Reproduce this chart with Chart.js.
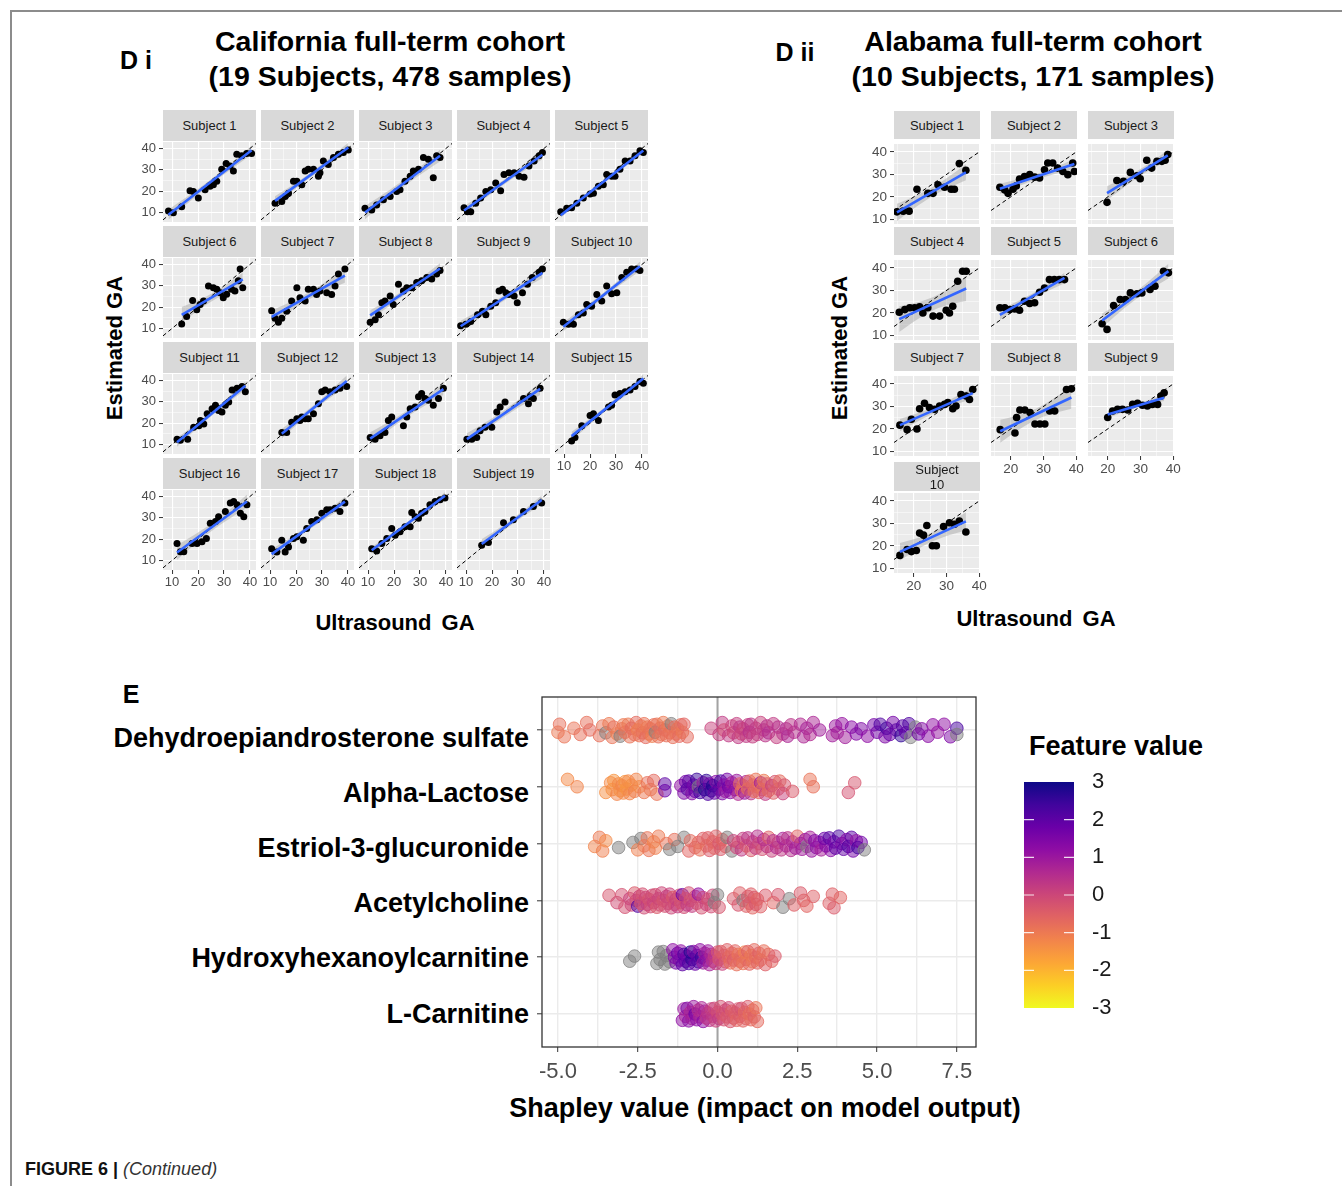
<!DOCTYPE html>
<html>
<head>
<meta charset="utf-8">
<script src="https://cdn.jsdelivr.net/npm/chart.js@4.4.1/dist/chart.umd.min.js"></script>
<style>
body { margin: 0; background: #fff; width: 1342px; height: 1186px; position: relative; overflow: hidden;
       font-family: "Liberation Sans", Arial, sans-serif; }
canvas { position: absolute; }
.strip { position: absolute; background: #D9D9D9; color: #1A1A1A; font-size: 13px; display: flex;
         align-items: center; justify-content: center; text-align: center; line-height: 15px; }
.txt { position: absolute; transform: translate(-50%, -50%); white-space: nowrap; color: #000; font-weight: bold; }
.feat { position: absolute; transform: translate(-100%, -50%); white-space: nowrap; color: #000; font-weight: bold; font-size: 27px; }
.rot { position: absolute; transform: translate(-50%, -50%) rotate(-90deg); white-space: nowrap; font-weight: bold; font-size: 22px; }
.line { position: absolute; background: #8C8C8C; }
</style>
</head>
<body>
<div class="line" style="left:10px;top:10px;width:1332px;height:1.5px"></div>
<div class="line" style="left:10px;top:10px;width:1.5px;height:1176px"></div>

<div class="txt" style="left:136px;top:60px;font-size:25px">D i</div>
<div class="txt" style="left:390px;top:41px;font-size:28.5px">California full-term cohort</div>
<div class="txt" style="left:390px;top:76px;font-size:28.5px">(19 Subjects, 478 samples)</div>
<div class="txt" style="left:795px;top:52px;font-size:25px">D ii</div>
<div class="txt" style="left:1033px;top:41px;font-size:28.5px">Alabama full-term cohort</div>
<div class="txt" style="left:1033px;top:76px;font-size:28.5px">(10 Subjects, 171 samples)</div>

<div class="rot" style="left:115px;top:348px">Estimated GA</div>
<div class="rot" style="left:840px;top:348px">Estimated GA</div>
<div class="txt" style="left:395px;top:623px;font-size:22px;word-spacing:4px">Ultrasound GA</div>
<div class="txt" style="left:1036px;top:619px;font-size:22px;word-spacing:4px">Ultrasound GA</div>

<div class="txt" style="left:131px;top:694px;font-size:25px">E</div>
<div class="txt" style="left:1116px;top:746px;font-size:27px">Feature value</div>
<div class="txt" style="left:765px;top:1108px;font-size:27px">Shapley value (impact on model output)</div>
<div id="featLabels"></div>

<div style="position:absolute;left:25px;top:1159px;font-size:18px;color:#111">
  <b>FIGURE 6 |</b> <i style="color:#333">(Continued)</i>
</div>

<script>
// ---- California cohort, estimated vs ultrasound GA, one array per subject ----
const ca01 = [[8.6,10.6],[10.5,9.8],[13.7,12.7],[16.9,20.2],[18.2,19.8],[20.1,16.7],[22.7,20.6],[24.6,22.2],[25.9,23.0],[27.2,24.6],[29.1,30.2],[30.8,32.9],[32.3,31.7],[33.6,29.4],[34.9,37.3],[36.8,36.5],[38.7,37.6],[40.6,37.6]];
const ca02 = [[11.9,14.3],[14.5,15.1],[15.8,17.5],[17.1,19.0],[19.0,24.6],[20.3,24.6],[22.2,23.0],[23.5,29.4],[24.7,30.2],[26.7,30.2],[28.6,27.0],[29.2,28.6],[30.5,34.1],[32.4,32.5],[34.4,35.7],[36.3,37.3],[38.2,38.1],[40.1,39.2]];
const ca03 = [[8.8,11.9],[11.4,11.1],[13.3,13.5],[15.9,15.9],[18.5,17.5],[21.0,19.8],[22.3,20.6],[24.2,24.6],[26.2,27.0],[27.4,29.4],[29.4,30.2],[31.3,35.7],[33.2,34.9],[35.1,26.2],[36.4,36.5],[37.7,35.7]];
const ca04 = [[9.2,12.2],[10.5,10.3],[11.8,10.3],[13.7,14.3],[15.6,16.7],[17.6,19.8],[19.5,20.6],[21.4,23.8],[23.3,20.2],[24.6,27.8],[26.5,28.6],[28.5,28.6],[30.4,27.0],[32.3,26.5],[34.2,31.7],[36.2,34.1],[38.1,36.5],[39.4,38.1]];
const ca05 = [[8.7,10.3],[11.0,11.9],[12.9,12.2],[14.9,14.3],[17.4,16.7],[20.0,18.6],[21.3,19.0],[23.2,22.2],[25.1,23.0],[26.4,27.8],[28.3,27.0],[29.6,27.0],[31.5,30.2],[33.5,34.1],[35.4,34.1],[37.3,36.5],[39.2,38.9],[40.5,38.1]];
const ca06 = [[13.7,12.1],[15.6,15.6],[17.9,23.1],[19.5,18.8],[20.8,21.2],[22.1,22.8],[24.0,29.9],[25.9,29.1],[27.2,28.3],[28.5,26.7],[29.7,24.4],[31.0,26.0],[32.9,28.3],[34.2,27.5],[35.5,32.3],[36.2,37.9],[37.2,29.1]];
const ca07 = [[10.6,18.3],[11.9,14.8],[13.2,12.9],[14.5,14.8],[16.4,18.0],[18.3,22.8],[20.3,29.1],[21.5,24.4],[23.5,22.8],[24.7,28.3],[26.7,28.3],[27.9,25.9],[29.2,27.5],[31.8,26.7],[33.7,25.9],[35.0,29.9],[36.3,35.5],[38.8,37.9]];
const ca08 = [[10.8,12.9],[12.7,14.0],[14.0,16.4],[15.3,22.0],[16.5,22.8],[18.5,25.2],[19.7,21.2],[21.7,30.7],[23.6,27.5],[24.9,29.1],[26.8,29.1],[28.7,31.5],[30.6,32.3],[32.6,33.9],[34.5,33.1],[36.4,35.5],[37.7,37.1]];
const ca09 = [[7.9,11.3],[9.9,11.9],[11.8,13.2],[14.4,16.4],[16.3,18.0],[17.6,16.4],[19.5,20.4],[21.4,22.0],[22.7,27.5],[24.0,28.3],[25.3,26.7],[26.5,25.9],[28.5,25.2],[29.7,22.0],[31.7,26.7],[33.6,30.7],[35.5,33.9],[38.1,36.3],[39.4,37.9]];
const ca10 = [[9.7,12.9],[11.7,11.9],[13.6,11.9],[15.5,16.4],[17.4,17.2],[18.7,21.2],[20.6,20.4],[22.6,25.9],[24.5,22.8],[26.4,29.9],[28.3,26.3],[30.3,26.7],[32.2,33.9],[34.1,36.3],[36.0,37.9],[37.9,37.9],[39.2,37.1]];
const ca11 = [[11.9,12.4],[13.2,11.9],[16.0,12.4],[18.3,18.0],[20.3,18.8],[20.9,21.2],[22.2,19.6],[23.5,24.4],[25.4,26.7],[26.7,28.3],[27.9,25.9],[29.2,25.2],[30.5,28.3],[31.8,29.9],[33.1,35.5],[35.0,36.3],[36.9,37.1],[38.2,34.7]];
const ca12 = [[14.5,15.6],[16.4,15.6],[18.3,20.4],[20.3,22.0],[21.5,21.2],[22.2,22.8],[23.5,22.0],[24.7,22.0],[26.7,24.4],[28.6,29.1],[29.9,34.7],[31.2,35.5],[33.1,34.7],[35.0,35.5],[36.9,36.3],[39.5,37.1]];
const ca13 = [[10.8,13.2],[12.7,12.4],[14.6,14.0],[16.5,15.6],[17.8,21.2],[19.1,22.8],[23.6,18.8],[24.9,22.8],[26.2,26.7],[28.1,27.5],[29.4,32.3],[30.6,33.9],[31.9,31.5],[33.2,30.7],[35.1,28.3],[37.1,31.5],[39.0,36.3]];
const ca14 = [[10.3,12.4],[12.2,12.4],[14.1,13.2],[15.4,16.4],[17.3,18.0],[19.9,18.0],[21.8,25.2],[23.1,27.5],[25.0,29.9],[32.1,31.5],[34.0,29.1],[34.6,32.3],[35.9,31.5],[38.5,36.3]];
const ca15 = [[12.9,11.6],[14.2,13.2],[16.8,18.8],[20.0,23.6],[21.3,24.4],[23.2,21.2],[27.1,27.5],[28.3,28.3],[29.6,33.1],[31.5,33.9],[33.5,34.7],[35.4,35.5],[37.3,37.1],[39.2,39.5],[40.5,38.7]];
const ca16 = [[11.9,17.9],[13.2,14.0],[14.5,14.0],[17.7,17.9],[19.6,17.9],[21.5,18.7],[23.2,20.3],[24.7,27.4],[26.7,28.2],[27.9,30.5],[30.5,32.9],[32.4,36.9],[33.7,37.6],[35.0,36.1],[36.3,32.1],[37.6,30.5],[38.8,36.1]];
const ca17 = [[10.6,15.5],[12.6,13.9],[14.5,19.5],[15.8,13.9],[17.1,16.3],[19.0,20.3],[20.3,21.1],[22.8,19.5],[24.1,25.0],[26.0,28.2],[28.0,29.0],[29.9,32.1],[31.8,33.7],[33.1,33.7],[35.0,34.5],[36.9,32.9],[38.8,36.9]];
const ca18 = [[11.4,15.5],[13.3,14.4],[15.3,17.9],[17.2,20.3],[19.1,25.0],[20.4,21.8],[22.3,23.4],[24.2,25.8],[26.2,25.8],[26.8,32.4],[28.1,30.5],[29.4,29.7],[30.6,32.1],[31.9,32.9],[33.8,36.1],[35.8,37.6],[37.7,38.4],[39.6,39.2]];
const ca19 = [[16.0,17.1],[18.6,18.4],[24.4,27.7],[28.2,29.0],[32.1,32.9],[35.9,35.3],[39.1,36.9]];

// ---- Alabama cohort ----
const al01 = [[14.9,13.4],[16.8,13.7],[18.6,13.7],[21.0,23.4],[24.3,21.6],[25.9,21.6],[27.4,25.4],[29.4,24.3],[31.4,23.4],[32.4,23.4],[33.9,34.8],[35.9,31.8]];
const al02 = [[16.7,24.3],[18.2,23.1],[19.2,21.6],[20.7,23.4],[21.7,24.9],[22.7,27.9],[24.2,29.1],[25.8,29.9],[27.3,28.8],[28.8,28.4],[30.3,32.1],[31.3,35.1],[32.8,35.1],[34.3,32.8],[35.9,31.3],[37.4,29.9],[38.9,35.1],[39.4,31.3]];
const al03 = [[19.8,17.6],[22.8,27.3],[24.8,26.9],[26.9,30.9],[28.9,29.4],[29.9,28.1],[31.9,36.3],[33.4,32.8],[35.0,35.8],[36.5,35.8],[37.5,36.3],[38.3,38.8]];
const al04 = [[15.6,20.3],[17.3,21.5],[18.8,22.3],[20.3,22.3],[21.8,22.7],[22.8,20.0],[24.3,22.3],[25.9,18.6],[27.9,18.6],[29.9,21.2],[30.9,20.0],[31.9,23.0],[33.4,34.1],[34.9,38.5],[36.0,38.5]];
const al05 = [[16.7,22.3],[18.2,22.3],[19.7,21.5],[21.2,21.8],[22.7,21.2],[24.2,25.2],[25.8,24.2],[27.3,24.5],[28.8,29.2],[30.3,31.1],[31.8,34.8],[33.3,34.8],[34.8,34.8],[36.4,34.8]];
const al06 = [[18.3,15.2],[19.8,12.7],[21.8,23.3],[23.8,26.0],[25.4,26.0],[26.9,28.9],[28.9,28.5],[30.4,28.9],[32.9,30.4],[34.4,31.9],[37.0,38.5],[38.5,37.8]];
const al07 = [[15.8,21.7],[18.0,19.7],[19.3,24.3],[21.0,20.0],[21.8,29.0],[23.3,31.4],[24.8,29.5],[26.4,28.7],[27.9,30.2],[29.4,30.9],[30.4,31.7],[31.9,29.0],[32.9,30.2],[34.4,35.3],[36.0,34.6],[37.0,33.1],[38.0,37.5]];
const al08 = [[16.8,19.7],[21.3,18.2],[21.8,25.1],[22.8,28.4],[24.3,28.4],[25.9,27.3],[27.4,22.2],[28.9,22.2],[30.4,22.2],[31.9,28.0],[33.4,28.0],[37.0,37.5],[38.5,37.8]];
const al09 = [[20.0,25.1],[21.5,28.0],[23.0,28.7],[24.5,28.7],[26.1,28.4],[27.6,30.9],[29.1,31.4],[30.6,30.5],[32.1,30.2],[33.6,30.9],[35.2,30.9],[36.2,34.6],[37.2,36.1]];
const al10 = [[15.8,15.8],[18.0,18.4],[19.3,17.5],[20.8,18.0],[21.8,25.7],[23.0,24.8],[24.0,29.1],[25.7,20.1],[26.9,20.1],[29.1,28.6],[30.9,30.3],[32.4,29.6],[33.9,31.0],[35.9,26.2]];

const calData = [ca01, ca02, ca03, ca04, ca05, ca06, ca07, ca08, ca09, ca10, ca11, ca12, ca13, ca14, ca15, ca16, ca17, ca18, ca19];
const alData = [al01, al02, al03, al04, al05, al06, al07, al08, al09, al10];
const gaGrid = [5, 10, 15, 20, 25, 30, 35, 40, 45];

// ---- SHAP values: [shapley value, scaled feature value (null = missing)] ----
const features = ['Dehydroepiandrosterone sulfate', 'Alpha-Lactose', 'Estriol-3-glucuronide',
                  'Acetylcholine', 'Hydroxyhexanoylcarnitine', 'L-Carnitine'];
const shapDhea = [[-5.0,-1.0],[-4.95,-0.8],[-4.8,-0.9],[-4.5,-0.9],[-4.3,-0.8],[-4.1,-0.8],[-4.0,-0.7],[-3.7,-0.8],[-3.6,-0.9],[-3.5,null],[-3.4,-1.0],[-3.3,-0.9],[-3.25,-0.8],[-3.15,-1.1],[-3.0,-0.9],[-3.05,null],[-2.95,-1.0],[-2.9,-0.8],[-2.8,-1.0],[-2.75,-0.9],[-2.7,-0.7],[-2.6,-0.8],[-2.55,-0.7],[-2.5,-1.1],[-2.45,-0.9],[-2.4,-1.0],[-2.35,-0.8],[-2.3,-0.9],[-2.25,-0.7],[-2.2,-1.0],[-2.15,-0.8],[-2.1,-0.9],[-2.05,-1.1],[-2.0,-0.8],[-1.95,null],[-1.9,-0.9],[-1.85,-0.8],[-1.8,-0.7],[-1.75,-0.9],[-1.7,-1.0],[-1.65,-0.7],[-1.6,-0.8],[-1.55,-1.0],[-1.5,-0.8],[-1.45,null],[-1.4,-0.8],[-1.35,-0.7],[-1.3,-0.9],[-1.25,-0.9],[-1.2,-0.7],[-1.15,-0.8],[-1.1,-1.0],[-1.05,-0.6],[-0.95,-0.7],
  [-0.2,0.1],[0.05,0.2],[0.15,0.3],[0.2,-0.1],[0.35,0.3],[0.45,0.1],[0.5,0.0],[0.6,0.2],[0.65,0.3],[0.7,0.4],[0.75,0.0],[0.8,0.1],[0.9,0.3],[0.95,0.2],[1.0,0.5],[1.05,0.4],[1.1,0.2],[1.2,0.3],[1.25,0.2],[1.35,0.1],[1.45,0.3],[1.5,0.4],[1.55,0.5],[1.6,0.6],[1.75,0.3],[1.85,0.2],[1.9,0.5],[2.05,0.4],[2.15,0.6],[2.2,0.7],[2.3,0.4],[2.4,0.5],[2.6,0.6],[2.7,0.7],[2.8,0.8],[2.9,0.6],[3.0,0.7],[3.2,0.9],
  [3.6,0.9],[3.7,1.0],[3.75,0.8],[3.9,1.1],[4.0,0.9],[4.2,1.3],[4.35,1.4],[4.5,1.5],[4.7,1.2],[4.9,1.6],[5.0,1.7],[5.1,2.2],[5.25,1.5],[5.3,2.4],[5.4,1.8],[5.5,1.6],[5.6,2.0],[5.75,2.6],[5.8,2.1],[5.9,1.9],[6.0,2.2],[6.05,null],[6.2,null],[6.3,1.7],[6.4,1.4],[6.6,1.3],[6.75,1.2],[6.9,1.1],[7.1,1.2],[7.3,1.5],[7.5,2.3],[7.5,null]];
const shapLactose = [[-4.7,-1.3],[-4.4,-1.2],[-3.5,-1.4],[-3.35,-1.3],[-3.3,-1.4],[-3.25,-1.5],[-3.15,-1.2],[-3.1,-1.3],[-3.05,-1.4],[-3.0,-1.2],[-2.95,-1.3],[-2.9,-1.5],[-2.85,-1.5],[-2.8,-1.3],[-2.75,-1.2],[-2.7,-1.4],[-2.6,-1.1],[-2.55,-1.2],[-2.45,-1.3],[-2.3,-1.0],[-2.2,-0.8],[-2.1,-1.0],[-2.0,-0.7],[-1.9,-0.9],[-1.65,2.0],[-1.65,1.8],[-1.15,1.2],[-1.05,1.5],[-1.0,1.6],[-0.95,2.2],[-0.9,2.0],[-0.8,1.4],[-0.75,1.6],[-0.7,1.8],[-0.65,2.5],[-0.6,null],[-0.55,2.4],[-0.45,1.1],[-0.4,2.9],[-0.35,2.6],[-0.3,2.2],[-0.25,1.7],[-0.2,2.6],[-0.15,2.8],[-0.1,1.9],[-0.05,1.3],[0.05,2.1],[0.1,2.4],[0.15,1.5],[0.2,1.2],[0.25,1.0],[0.3,1.6],[0.35,1.8],[0.4,1.3],[0.45,0.8],[0.55,1.4],[0.6,1.0],[0.65,0.6],[0.7,-0.6],[0.75,-0.7],[0.8,-0.8],[0.85,1.1],[0.9,0.7],[0.95,-0.9],[1.0,-0.7],[1.05,0.4],[1.1,-0.5],[1.15,-0.8],[1.2,-0.9],[1.25,-0.6],[1.3,-0.6],[1.35,0.9],[1.4,-0.8],[1.45,-1.0],[1.5,0.3],[1.55,-0.5],[1.6,-0.7],[1.7,0.2],[1.75,-0.5],[1.8,-0.3],[1.9,-0.4],[1.95,-0.7],[2.05,0.1],[2.1,-0.3],[2.35,-0.4],[2.9,-0.9],[3.0,-0.8],[4.1,-0.2],[4.3,-0.3]];
const shapEstriol = [[-3.85,-1.2],[-3.7,-1.0],[-3.6,-1.1],[-3.5,-1.3],[-3.1,null],[-2.65,null],[-2.5,-1.1],[-2.4,null],[-2.3,-1.0],[-2.2,-0.9],[-2.15,-0.9],[-2.0,-1.2],[-1.95,-1.1],[-1.85,-1.0],[-1.6,-0.9],[-1.5,null],[-1.35,-0.8],[-1.25,null],[-1.05,null],[-0.9,-0.6],[-0.85,-0.7],[-0.7,-0.6],[-0.6,-0.7],[-0.55,-0.8],[-0.45,-0.5],[-0.35,-0.7],[-0.3,-0.5],[-0.25,-0.4],[-0.15,-0.6],[-0.1,-0.6],[-0.05,-0.5],[0.05,-0.3],[0.1,-0.4],[0.15,-0.6],[0.25,-0.5],[0.3,null],[0.45,null],[0.5,0.1],[0.6,0.0],[0.65,-0.2],[0.75,0.3],[0.8,0.2],[0.9,-0.3],[0.95,0.4],[1.05,-0.4],[1.1,0.2],[1.2,0.3],[1.25,0.5],[1.3,0.0],[1.4,-0.2],[1.45,0.6],[1.55,0.4],[1.6,-0.5],[1.7,0.1],[1.75,0.5],[1.85,0.6],[1.9,0.2],[2.0,0.3],[2.05,0.8],[2.15,0.7],[2.2,0.4],[2.3,0.5],[2.35,0.7],[2.45,0.9],[2.5,-0.6],[2.6,0.6],[2.65,0.9],[2.75,1.1],[2.8,null],[2.9,0.8],[2.95,1.0],[3.05,1.4],[3.1,1.2],[3.2,1.1],[3.25,0.8],[3.35,1.8],[3.4,1.5],[3.5,2.1],[3.55,1.3],[3.65,1.6],[3.7,2.0],[3.8,2.3],[3.9,1.5],[3.95,1.9],[4.05,1.3],[4.1,2.2],[4.2,2.0],[4.25,1.6],[4.35,1.1],[4.4,2.4],[4.5,1.7],[4.6,null]];
const shapAcetyl = [[-3.4,-0.3],[-3.15,-0.1],[-3.0,-0.2],[-2.9,-0.2],[-2.75,0.1],[-2.7,0.0],[-2.6,-0.4],[-2.55,-0.1],[-2.5,2.2],[-2.45,0.1],[-2.4,-0.3],[-2.35,-0.2],[-2.3,-0.1],[-2.25,0.0],[-2.2,0.2],[-2.15,-0.3],[-2.1,-0.1],[-2.05,0.0],[-2.0,0.1],[-1.95,-0.2],[-1.9,-0.4],[-1.85,0.1],[-1.8,-0.1],[-1.75,0.0],[-1.7,-0.3],[-1.65,-0.2],[-1.6,0.2],[-1.55,-0.1],[-1.5,0.1],[-1.45,0.0],[-1.4,-0.4],[-1.35,-0.1],[-1.3,0.1],[-1.25,0.2],[-1.2,-0.2],[-1.15,-0.3],[-1.1,1.8],[-1.05,-0.1],[-1.0,0.0],[-0.95,0.3],[-0.9,-0.2],[-0.85,-0.3],[-0.8,0.2],[-0.7,0.0],[-0.65,-0.1],[-0.6,1.2],[-0.5,-0.2],[-0.45,0.1],[-0.35,0.1],[-0.3,-0.2],[-0.2,-0.1],[-0.15,0.0],[-0.1,null],[0.0,null],[0.05,-0.3],[0.5,-0.4],[0.65,-0.3],[0.7,-0.5],[0.8,null],[0.9,-0.5],[0.95,-0.3],[1.0,-0.4],[1.05,-0.5],[1.1,-0.6],[1.15,-0.4],[1.2,-0.3],[1.25,-0.6],[1.35,-0.5],[1.5,-0.4],[1.75,-0.6],[1.9,-0.3],[2.05,null],[2.25,null],[2.4,-0.5],[2.6,-0.4],[2.7,-0.5],[2.8,-0.6],[3.0,-0.5],[3.5,-0.5],[3.6,-0.5],[3.65,-0.4],[3.85,-0.6]];
const shapHydroxy = [[-2.75,null],[-2.6,null],[-1.9,null],[-1.85,null],[-1.8,null],[-1.7,null],[-1.65,null],[-1.6,null],[-1.5,null],[-1.4,1.2],[-1.35,1.4],[-1.3,1.6],[-1.25,1.8],[-1.2,1.5],[-1.15,1.2],[-1.1,2.0],[-1.05,2.2],[-1.0,1.8],[-0.95,1.6],[-0.9,2.3],[-0.85,2.8],[-0.8,2.6],[-0.75,1.4],[-0.7,1.8],[-0.65,2.0],[-0.6,2.2],[-0.55,1.2],[-0.5,2.5],[-0.45,1.0],[-0.4,0.8],[-0.35,1.4],[-0.3,1.0],[-0.25,0.8],[-0.2,0.6],[-0.15,0.5],[-0.1,0.3],[-0.05,0.2],[0.0,-0.2],[0.05,-0.3],[0.1,-0.5],[0.15,0.1],[0.2,-0.4],[0.25,-0.3],[0.3,-0.5],[0.35,-0.6],[0.4,-0.8],[0.45,-0.7],[0.5,-0.4],[0.55,-0.6],[0.6,-0.8],[0.65,-0.9],[0.7,-0.6],[0.75,-0.7],[0.8,-0.9],[0.85,-1.1],[0.9,-0.8],[0.95,-0.5],[1.0,-0.6],[1.05,-1.0],[1.1,-0.9],[1.15,-0.7],[1.2,-0.7],[1.25,-0.6],[1.3,-0.5],[1.35,-0.8],[1.45,-0.8],[1.5,-0.5],[1.6,-0.7],[1.7,-0.6],[1.8,-0.4]];
const shapCarnitine = [[-1.1,1.2],[-1.05,1.0],[-1.0,0.8],[-0.95,1.5],[-0.9,1.3],[-0.85,0.6],[-0.8,0.9],[-0.75,1.0],[-0.7,1.8],[-0.65,1.2],[-0.6,0.4],[-0.55,0.6],[-0.5,0.7],[-0.45,1.3],[-0.4,0.8],[-0.35,0.3],[-0.3,0.4],[-0.25,0.5],[-0.2,0.2],[-0.15,0.3],[-0.1,0.0],[-0.05,0.1],[0.0,-0.1],[0.05,0.3],[0.1,-0.2],[0.15,-0.3],[0.2,-0.2],[0.25,-0.1],[0.3,-0.4],[0.35,0.0],[0.4,-0.3],[0.45,-0.5],[0.5,-0.3],[0.55,-0.5],[0.6,-0.6],[0.65,-0.3],[0.7,-0.4],[0.75,-0.2],[0.8,-0.6],[0.85,-0.7],[0.9,-0.5],[0.95,-0.4],[1.0,-0.8],[1.05,-0.7],[1.1,-0.6],[1.15,-0.5],[1.2,-0.9],[1.25,-0.7]];
const shapRows = [shapDhea, shapLactose, shapEstriol, shapAcetyl, shapHydroxy, shapCarnitine];
const shapGrid = [-5, -3.75, -2.5, -1.25, 0, 1.25, 2.5, 3.75, 5, 6.25, 7.5];
const colorbarTicks = [-3, -2, -1, 0, 1, 2, 3];

// vertical spread of the dots around each row (row units)
const jitter = [0.04, -0.1, 0.12, -0.03, 0.08, -0.13, 0.0, 0.1, -0.07, 0.05, -0.11, 0.13, -0.05, 0.07, -0.02, 0.11, -0.09];
const plasma = ['#0d0887', '#41049d', '#6a00a8', '#8f0da4', '#b12a90', '#cc4778', '#e16462', '#f2844b', '#fca636', '#fcce25', '#f0f921'];
// where each feature name sits (the labels are set a little apart from the rows in the figure)
const featLabelY = [738, 793, 848, 903, 958, 1014];

Chart.defaults.font.family = '"Liberation Sans", Arial, sans-serif';
Chart.defaults.animation = false;

function hexRgb(h) {
    return [parseInt(h.slice(1, 3), 16), parseInt(h.slice(3, 5), 16), parseInt(h.slice(5, 7), 16)];
}
function featureColor(v, alpha) {
    if (v === null || v === undefined) return `rgba(128,128,128,${alpha})`;
    const t = (3 - Math.max(-3, Math.min(3, v))) / 6;
    const p = t * (plasma.length - 1);
    const i = Math.min(Math.floor(p), plasma.length - 2);
    const f = p - i;
    const c0 = hexRgb(plasma[i]), c1 = hexRgb(plasma[i + 1]);
    const c = c0.map((c, k) => Math.round(c + (c1[k] - c) * f));
    return `rgba(${c[0]},${c[1]},${c[2]},${alpha})`;
}

// least squares fit + 95% band, like geom_smooth(method = "lm")
function fitLine(pts) {
    const n = pts.length;
    const mx = pts.reduce((s, p) => s + p[0], 0) / n;
    const my = pts.reduce((s, p) => s + p[1], 0) / n;
    let sxx = 0, sxy = 0;
    pts.forEach(p => { sxx += (p[0] - mx) ** 2; sxy += (p[0] - mx) * (p[1] - my); });
    const b = sxy / sxx, a = my - b * mx;
    let sse = 0;
    pts.forEach(p => { sse += (p[1] - a - b * p[0]) ** 2; });
    const s = Math.sqrt(sse / (n - 2));
    const xs = pts.map(p => p[0]);
    const xmin = Math.min(...xs), xmax = Math.max(...xs);
    const lower = [], upper = [];
    for (let i = 0; i <= 12; i++) {
        const x = xmin + (xmax - xmin) * i / 12;
        const se = 2.12 * s * Math.sqrt(1 / n + (x - mx) ** 2 / sxx);
        lower.push({ x: x, y: a + b * x - se });
        upper.push({ x: x, y: a + b * x + se });
    }
    return { line: [{ x: xmin, y: a + b * xmin }, { x: xmax, y: a + b * xmax }], lower, upper };
}

const panelBg = {
    id: 'panelBg',
    beforeDraw(chart) {
        const a = chart.chartArea, c = chart.ctx;
        c.save();
        c.fillStyle = '#EBEBEB';
        c.fillRect(a.left, a.top, a.right - a.left, a.bottom - a.top);
        c.restore();
    }
};

function gaAxis(range, show, isX, size, fontSize) {
    const major = c => c.tick && c.tick.value % 10 === 0;
    return {
        type: 'linear', min: range[0], max: range[1],
        afterBuildTicks: s => { s.ticks = gaGrid.filter(v => v > s.min && v < s.max).map(v => ({ value: v })); },
        afterFit: s => {
            if (isX) s.height = size; else s.width = size;
            s.paddingLeft = 0; s.paddingRight = 0; s.paddingTop = 0; s.paddingBottom = 0;
        },
        grid: {
            color: '#FFFFFF', lineWidth: c => major(c) ? 1.1 : 0.5,
            drawTicks: show, tickLength: 4, tickWidth: 1,
            tickColor: c => major(c) ? '#333333' : 'rgba(0,0,0,0)'
        },
        border: { display: false },
        ticks: {
            display: show, autoSkip: false, maxRotation: 0, padding: isX ? 1 : 3,
            color: '#4D4D4D', font: { size: fontSize },
            callback: v => v % 10 === 0 ? v : ''
        }
    };
}

const M = 12;
function drawPanel(pts, name, g) {
    const yW = g.showY ? 30 : 0, xH = g.showX ? 20 : 0;
    const strip = document.createElement('div');
    strip.className = 'strip';
    strip.style.left = g.left + 'px';
    strip.style.top = g.stripTop + 'px';
    strip.style.width = g.w + 'px';
    strip.style.height = g.stripH + 'px';
    strip.innerHTML = name;
    document.body.appendChild(strip);

    const cv = document.createElement('canvas');
    cv.width = g.w + 2 * M + yW;
    cv.height = g.h + 2 * M + xH;
    cv.style.left = (g.left - M - yW) + 'px';
    cv.style.top = (g.top - M) + 'px';
    document.body.appendChild(cv);

    const fit = fitLine(pts);
    new Chart(cv, {
        type: 'scatter',
        data: {
            datasets: [
                { type: 'line', data: fit.lower, borderColor: 'rgba(0,0,0,0)', borderWidth: 0, pointRadius: 0, fill: false, order: 5 },
                { type: 'line', data: fit.upper, borderColor: 'rgba(0,0,0,0)', borderWidth: 0, pointRadius: 0,
                  fill: '-1', backgroundColor: 'rgba(153,153,153,0.4)', order: 4 },
                { type: 'line', data: [{ x: g.xr[0], y: g.xr[0] }, { x: g.xr[1], y: g.xr[1] }],
                  borderColor: '#000', borderWidth: 1, borderDash: [4, 3], pointRadius: 0, order: 3 },
                { data: pts.map(p => ({ x: p[0], y: p[1] })), backgroundColor: '#000', borderWidth: 0,
                  pointRadius: g.r, order: 2 },
                { type: 'line', data: fit.line, borderColor: '#3366FF', borderWidth: 2.6, pointRadius: 0, order: 1 }
            ]
        },
        options: {
            responsive: false, events: [],
            layout: { autoPadding: false, padding: { left: M, right: M, top: M, bottom: M } },
            plugins: { legend: { display: false }, tooltip: { enabled: false } },
            scales: {
                x: gaAxis(g.xr, g.showX, true, xH, g.fs),
                y: gaAxis(g.yr, g.showY, false, yW, g.fs)
            }
        },
        plugins: [panelBg]
    });
}

// California facets: 5 columns
const calLefts = [163, 261, 359, 457, 555];
const calTops = [142, 258, 374, 490];
calData.forEach((pts, i) => {
    const col = i % 5, row = Math.floor(i / 5);
    drawPanel(pts, 'Subject ' + (i + 1), {
        left: calLefts[col], top: calTops[row], w: 93, h: 80,
        stripTop: calTops[row] - 32, stripH: 31,
        xr: [6.5, 42.3], yr: [5.5, 43], r: 3.5, fs: 13,
        showY: col === 0, showX: row === 3 || (row === 2 && col === 4)
    });
});

// Alabama facets: 3 columns
const alLefts = [894, 991, 1088];
const alTops = [144, 260, 376, 493];
alData.forEach((pts, i) => {
    const col = i % 3, row = Math.floor(i / 3);
    const name = i === 9 ? 'Subject<br>10' : 'Subject ' + (i + 1);
    drawPanel(pts, name, {
        left: alLefts[col], top: alTops[row], w: 86, h: 80,
        stripTop: alTops[row] - (row === 3 ? 31 : 33), stripH: row === 3 ? 29 : 28,
        xr: [14, 40.2], yr: [8, 43.5], r: 3.8, fs: 13.5,
        showY: col === 0, showX: row === 3 || (row === 2 && col > 0)
    });
});

// ---- SHAP summary plot ----
const shapPts = [];
let k = 0;
shapRows.forEach((rows, r) => {
    rows.forEach(p => {
        shapPts.push({ x: p[0], y: r + 1 + jitter[k % jitter.length], v: p[1] });
        k++;
    });
});
const shapY = [0.42, 6.58];

const labelBox = document.getElementById('featLabels');
features.forEach((f, i) => {
    const d = document.createElement('div');
    d.className = 'feat';
    d.style.left = '529px';
    d.style.top = featLabelY[i] + 'px';
    d.textContent = f;
    labelBox.appendChild(d);
});

const boxBorder = {
    id: 'boxBorder',
    afterDraw(chart) {
        const a = chart.chartArea, c = chart.ctx;
        c.save();
        c.strokeStyle = '#333333';
        c.lineWidth = 1.3;
        c.strokeRect(a.left, a.top, a.right - a.left, a.bottom - a.top);
        c.restore();
    }
};

const isMajorShap = v => Math.abs(v / 2.5 - Math.round(v / 2.5)) < 1e-9;
const shapCanvas = document.createElement('canvas');
shapCanvas.width = 900; shapCanvas.height = 420;
shapCanvas.style.left = '100px'; shapCanvas.style.top = '680px';
document.body.appendChild(shapCanvas);
new Chart(shapCanvas, {
    type: 'scatter',
    data: {
        datasets: [
            { type: 'line', data: [{ x: 0, y: shapY[0] }, { x: 0, y: shapY[1] }], borderColor: '#A3A3A3',
              borderWidth: 2, pointRadius: 0, order: 2 },
            { data: shapPts, pointRadius: 6.3, borderWidth: 1, order: 1,
              backgroundColor: c => featureColor(c.raw && c.raw.v, 0.5),
              borderColor: c => featureColor(c.raw && c.raw.v, 0.75) }
        ]
    },
    options: {
        responsive: false, events: [],
        layout: { autoPadding: false, padding: { left: 0, right: 24, top: 17, bottom: 0 } },
        plugins: { legend: { display: false }, tooltip: { enabled: false } },
        scales: {
            x: {
                type: 'linear', min: -5.5, max: 8.1,
                afterBuildTicks: s => { s.ticks = shapGrid.map(v => ({ value: v })); },
                afterFit: s => { s.height = 53; s.paddingLeft = 0; s.paddingRight = 0; },
                grid: { color: '#EBEBEB', lineWidth: 1.4, tickLength: 5, tickWidth: 1,
                        tickColor: c => c.tick && isMajorShap(c.tick.value) ? '#333333' : 'rgba(0,0,0,0)' },
                border: { display: false },
                ticks: { autoSkip: false, maxRotation: 0, padding: 7, color: '#4D4D4D', font: { size: 22 },
                         callback: v => isMajorShap(v) ? v.toFixed(1) : '' }
            },
            y: {
                type: 'linear', min: shapY[0], max: shapY[1], reverse: true,
                afterBuildTicks: s => { s.ticks = features.map((f, i) => ({ value: i + 1 })); },
                afterFit: s => { s.width = 442; s.paddingTop = 0; s.paddingBottom = 0; },
                grid: { color: '#EBEBEB', lineWidth: 1.6, tickLength: 5, tickWidth: 1, tickColor: '#333333' },
                border: { display: false },
                ticks: { display: false }
            }
        }
    },
    plugins: [boxBorder]
});

// ---- colour bar ----
const barTicks = {
    id: 'barTicks',
    afterDatasetsDraw(chart) {
        const a = chart.chartArea, c = chart.ctx, y = chart.scales.y;
        c.save();
        c.strokeStyle = 'rgba(255,255,255,0.85)';
        c.lineWidth = 1.2;
        colorbarTicks.slice(1, -1).forEach(v => {
            const py = y.getPixelForValue(v);
            c.beginPath();
            c.moveTo(a.left, py); c.lineTo(a.left + 10, py);
            c.moveTo(a.right - 10, py); c.lineTo(a.right, py);
            c.stroke();
        });
        c.restore();
    }
};
const cbCanvas = document.createElement('canvas');
cbCanvas.width = 160; cbCanvas.height = 250;
cbCanvas.style.left = '1000px'; cbCanvas.style.top = '770px';
document.body.appendChild(cbCanvas);
new Chart(cbCanvas, {
    type: 'bar',
    data: {
        labels: [''],
        datasets: [{
            data: [[colorbarTicks[0], colorbarTicks[colorbarTicks.length - 1]]],
            barPercentage: 1, categoryPercentage: 1, borderWidth: 0,
            backgroundColor: c => {
                const a = c.chart.chartArea;
                if (!a) return '#cc4778';
                const g = c.chart.ctx.createLinearGradient(0, a.top, 0, a.bottom);
                plasma.forEach((h, i) => g.addColorStop(i / (plasma.length - 1), h));
                return g;
            }
        }]
    },
    options: {
        responsive: false, events: [],
        layout: { autoPadding: false, padding: { left: 24, right: 0, top: 12, bottom: 12 } },
        plugins: { legend: { display: false }, tooltip: { enabled: false } },
        scales: {
            x: { display: false },
            y: {
                position: 'right', min: -3, max: 3,
                afterBuildTicks: s => { s.ticks = colorbarTicks.map(v => ({ value: v })); },
                afterFit: s => { s.width = 86; s.paddingTop = 0; s.paddingBottom = 0; },
                grid: { display: false }, border: { display: false },
                ticks: { padding: 10, color: '#1A1A1A', font: { size: 22 } }
            }
        }
    },
    plugins: [barTicks]
});
</script>
</body>
</html>
